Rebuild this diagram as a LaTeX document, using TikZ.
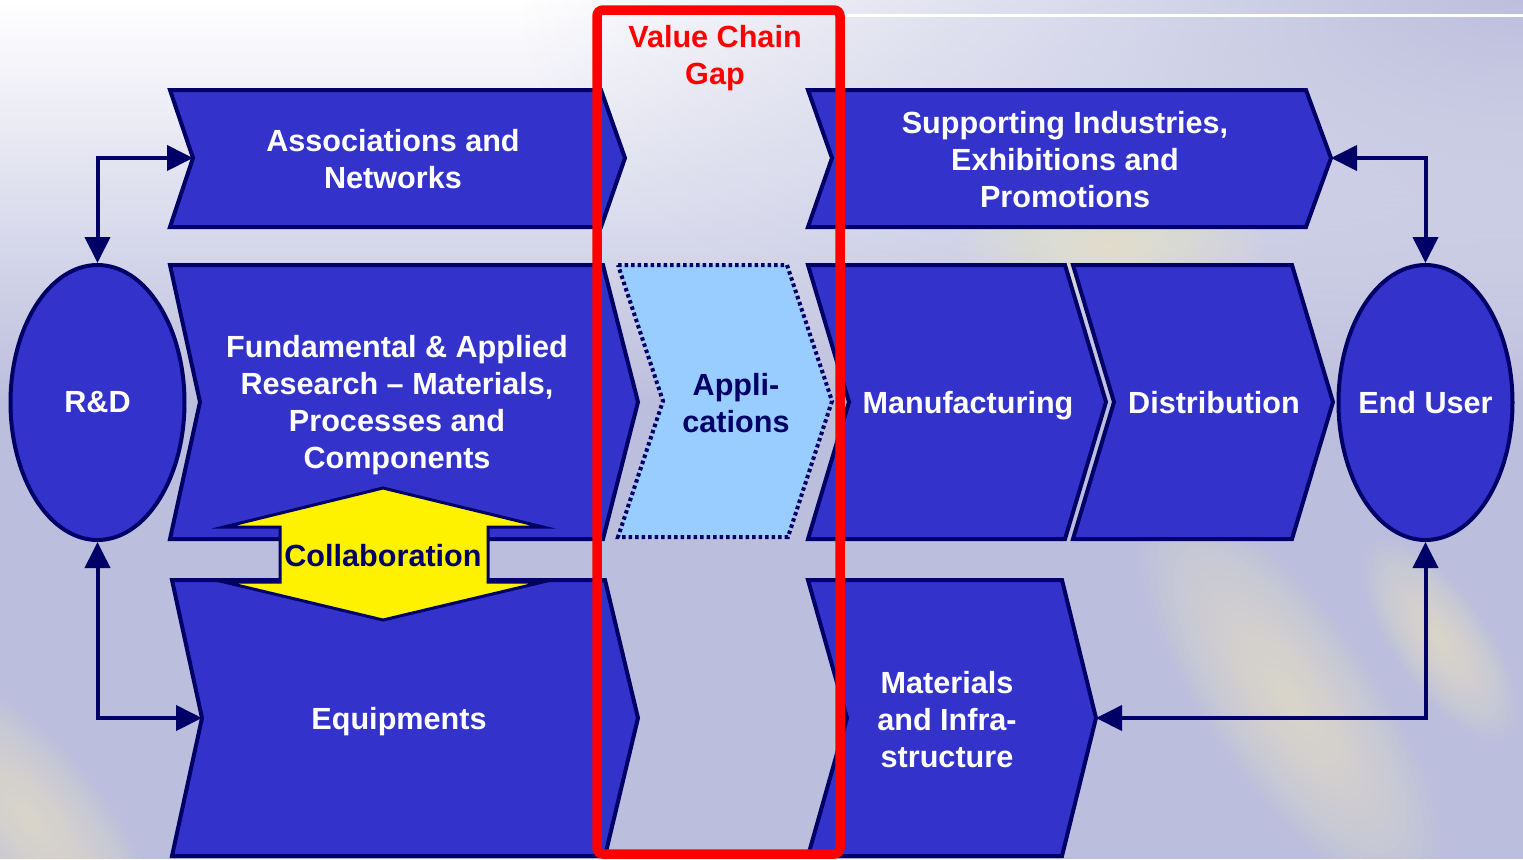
\documentclass[tikz,border=0pt]{standalone}
\usepackage{fontspec}
\setmainfont{Liberation Sans}
\usetikzlibrary{shapes.geometric,arrows.meta,fadings}
\definecolor{chevblue}{HTML}{3333CC}
\definecolor{navy}{HTML}{000066}
\definecolor{lavender}{HTML}{BCBEDD}
\definecolor{appblue}{HTML}{99CCFF}
\definecolor{cream}{HTML}{F6EFC4}
\tikzfading[name=glow, inner color=transparent!0, outer color=transparent!100]
\tikzset{
  chev/.style={fill=chevblue, draw=navy, line width=2pt},
  lbl/.style={text=white, font=\fontsize{15.3}{18.5}\selectfont\bfseries, align=center},
  oval/.style={ellipse, fill=chevblue, draw=navy, line width=2pt,
    minimum width=87pt, minimum height=137.5pt, inner sep=0pt},
  link/.style={draw=navy, line width=2pt,
    {Triangle[length=13pt,width=12.5pt]}-{Triangle[length=13pt,width=12.5pt]}},
  shine/.style={fill=cream, fill opacity=0.05}
}
\begin{document}
\begin{tikzpicture}[x=0.5pt,y=-0.5pt]
  \useasboundingbox (0,0) rectangle (1523,859);
  % background
  \fill[lavender] (0,0) rectangle (1523,859);
  \shade[top color=white, middle color=white, bottom color=lavender] (0,0) rectangle (1523,400);
  \fill[lavender, path fading=glow] (1523,0) ellipse [x radius=1000, y radius=420];
  \foreach \k in {1,...,18} {
    \fill[shine] (1110,245) ellipse [x radius=8.5*\k, y radius=3.4*\k];
    \fill[shine, rotate around={-55:(1290,700)}] (1290,700) ellipse [x radius=13*\k, y radius=4.6*\k];
    \fill[shine, rotate around={-55:(1440,640)}] (1440,640) ellipse [x radius=6.5*\k, y radius=2.6*\k];
    \fill[shine, rotate around={-50:(30,820)}] (30,820) ellipse [x radius=10*\k, y radius=4*\k];
  }
  \draw[white, line width=1.5pt] (845,15) -- (1523,15);
  % top row
  \draw[chev] (170,90) -- (601,90) -- (625,158) -- (601,227) -- (170,227) -- (193,158) -- cycle;
  \draw[chev] (808,90) -- (1306,90) -- (1331,158) -- (1306,227) -- (808,227) -- (832,158) -- cycle;
  % middle row
  \draw[chev] (170,265) -- (603,265) -- (638,402) -- (603,539) -- (170,539) -- (200,402) -- cycle;
  \draw[chev] (808,265) -- (1065,265) -- (1106,402) -- (1065,539) -- (808,539) -- (849,402) -- cycle;
  \draw[chev] (1073,265) -- (1292,265) -- (1333,402) -- (1292,539) -- (1073,539) -- (1114,402) -- cycle;
  % bottom row
  \draw[chev] (172,580) -- (605,580) -- (638,718) -- (605,856) -- (172,856) -- (202,718) -- cycle;
  \draw[chev] (808,580) -- (1062,580) -- (1096,718) -- (1062,856) -- (808,856) -- (847,718) -- cycle;
  \coordinate (associn) at (193,158);
  \coordinate (supptip) at (1331,158);
  \coordinate (equipin) at (202,718);
  \coordinate (mattip) at (1096,718);
  % ends
  \node[oval] (rd) at (97.5,402.5) {};
  \node[oval] (enduser) at (1425.5,402.5) {};
  \node[lbl] (rdname) at (rd) {R\&D};
  \node[lbl] (euname) at (enduser) {End User};
  \draw[link] (rd.north) |- (associn);
  \draw[link] (rd.south) |- (equipin);
  \draw[link] (enduser.north) |- (supptip);
  \draw[link] (enduser.south) |- (mattip);
  % labels
  \node[lbl] (assoc) at (393,159) {Associations and\\Networks};
  \node[lbl] (supp) at (1065,160) {Supporting Industries,\\Exhibitions and\\Promotions};
  \node[lbl] (fund) at (397,405) {Fundamental \& Applied\\Research -- Materials,\\Processes and\\Components};
  \node[lbl] (manuf) at (968,406) {Manufacturing};
  \node[lbl] (distr) at (1214,403) {Distribution};
  \node[lbl] (equip) at (399,722) {Equipments};
  \node[lbl] (mater) at (947,720) {Materials\\and Infra-\\structure};
  % collaboration
  \draw[fill=yellow, draw=navy, line width=1.5pt] (383,488) -- (543,527) -- (488,527) -- (488,582)
    -- (543,582) -- (383,620) -- (224,582) -- (280,582) -- (280,527) -- (224,527) -- cycle;
  \node[lbl, text=navy] (collab) at (383,556) {Collaboration};
  % applications
  \draw[fill=appblue, draw=navy, line width=2pt, dash pattern=on 1.75pt off 1.5pt]
    (618,265) -- (787,265) -- (832,401) -- (788,537) -- (618,537) -- (663,401) -- cycle;
  \node[lbl, text=navy] (appl) at (736,403) {Appli-\\cations};
  % gap
  \draw[red, line width=4.75pt, rounded corners=3pt] (597,10) rectangle (840,854);
  \node[lbl, text=red] (gap) at (715,58) {Value Chain\\Gap};
\end{tikzpicture}
\end{document}
